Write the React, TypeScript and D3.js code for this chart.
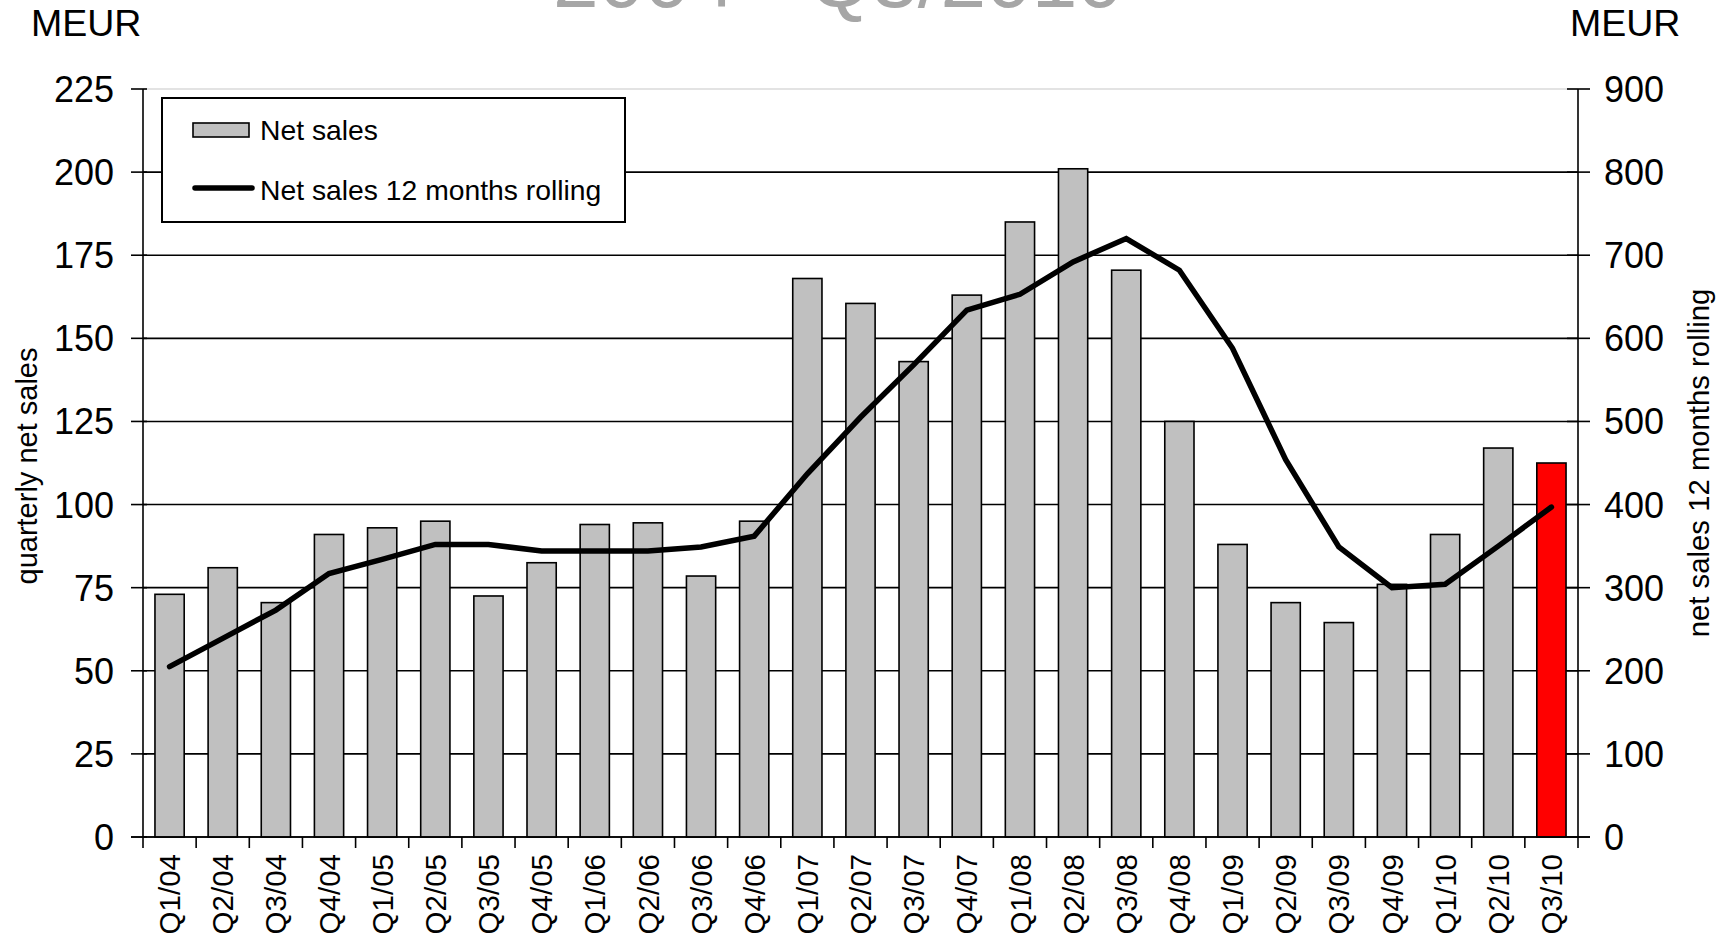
import React, { useEffect } from "react";
import * as d3 from "d3";

const categories = [
  "Q1/04", "Q2/04", "Q3/04", "Q4/04",
  "Q1/05", "Q2/05", "Q3/05", "Q4/05",
  "Q1/06", "Q2/06", "Q3/06", "Q4/06",
  "Q1/07", "Q2/07", "Q3/07", "Q4/07",
  "Q1/08", "Q2/08", "Q3/08", "Q4/08",
  "Q1/09", "Q2/09", "Q3/09", "Q4/09",
  "Q1/10", "Q2/10", "Q3/10",
];

const netSales = [
  73, 81, 70.5, 91,
  93, 95, 72.5, 82.5,
  94, 94.5, 78.5, 95,
  168, 160.5, 143, 163,
  185, 201, 170.5, 125,
  88, 70.5, 64.5, 76,
  91, 117, 112.5,
];

const rolling12m = [
  205, 239, 273, 317,
  334, 352, 352, 344,
  344, 344, 349, 362,
  437, 505, 568, 634,
  653, 692, 720, 682,
  588, 454, 349, 300,
  304, 350, 397,
];

const leftTicks = [0, 25, 50, 75, 100, 125, 150, 175, 200, 225];
const rightTicks = [0, 100, 200, 300, 400, 500, 600, 700, 800, 900];

const highlightCategory = "Q3/10";
const titleText = "2004 - Q3/2010";
const unitLabel = "MEUR";
const leftTitle = "quarterly net sales";
const rightTitle = "net sales 12 months rolling";
const legendBarLabel = "Net sales";
const legendLineLabel = "Net sales 12 months rolling";

const W = 1727;
const H = 937;
const M = { left: 143, right: 1578, top: 89, bottom: 837 };
const FONT = "'Liberation Sans', Arial, Helvetica, sans-serif";

export default function App() {
  useEffect(() => {
    document.body.style.margin = "0";
    document.body.style.overflow = "hidden";
  }, []);

  const x = d3
    .scaleBand<string>()
    .domain(categories)
    .range([M.left, M.right])
    .paddingInner(0.45)
    .paddingOuter(0.225);
  const yL = d3.scaleLinear().domain([0, 225]).range([M.bottom, M.top]);
  const yR = d3.scaleLinear().domain([0, 900]).range([M.bottom, M.top]);

  const step = x.step();
  const cx = (c: string) => (x(c) as number) + x.bandwidth() / 2;

  const lineGen = d3
    .line<number>()
    .x((_, i) => cx(categories[i]))
    .y((d) => yR(d));

  const boundaries = d3.range(categories.length + 1).map((k) => M.left + k * step);

  return (
    <div style={{ position: "absolute", left: 0, top: 0, width: W, height: H, background: "#fff" }}>
      <svg width={W} height={H} style={{ display: "block", fontFamily: FONT }}>
        <rect x={0} y={0} width={W} height={H} fill="#fff" />
        {/* cropped title (cut at the top edge as in the reference) */}
        <text x={838} y={7} textAnchor="middle" fontSize={82} fill="#a6a6a6">
          {titleText}
        </text>

        {/* units */}
        <text x={31} y={36} fontSize={37.5} fill="#000">{unitLabel}</text>
        <text x={1570} y={36} fontSize={37.5} fill="#000">{unitLabel}</text>

        {/* gridlines */}
        {leftTicks.map((t) => (
          <line
            key={"g" + t}
            x1={M.left}
            x2={M.right}
            y1={yL(t)}
            y2={yL(t)}
            stroke={t === 225 ? "#c8c8c8" : "#000"}
            strokeWidth={t === 225 ? 1.2 : 1.6}
          />
        ))}

        {/* bars */}
        {categories.map((c, i) => (
          <rect
            key={c}
            x={x(c)}
            y={yL(netSales[i])}
            width={x.bandwidth()}
            height={yL(0) - yL(netSales[i])}
            fill={c === highlightCategory ? "#ff0000" : "#c0c0c0"}
            stroke="#000"
            strokeWidth={1.6}
          />
        ))}

        {/* rolling line */}
        <path
          d={lineGen(rolling12m) || ""}
          fill="none"
          stroke="#000"
          strokeWidth={5.5}
          strokeLinejoin="miter"
          strokeLinecap="round"
        />

        {/* left axis */}
        <line x1={M.left} x2={M.left} y1={M.top} y2={M.bottom} stroke="#000" strokeWidth={1.6} />
        {leftTicks.map((t) => (
          <g key={"lt" + t}>
            <line x1={M.left - 12} x2={M.left + 4} y1={yL(t)} y2={yL(t)} stroke="#000" strokeWidth={1.6} />
            <text x={114} y={yL(t)} dy="0.36em" textAnchor="end" fontSize={36} fill="#000">
              {t}
            </text>
          </g>
        ))}

        {/* right axis */}
        <line x1={M.right} x2={M.right} y1={M.top} y2={M.bottom} stroke="#000" strokeWidth={1.6} />
        {rightTicks.map((t) => (
          <g key={"rt" + t}>
            <line x1={M.right - 11} x2={M.right + 12} y1={yR(t)} y2={yR(t)} stroke="#000" strokeWidth={1.6} />
            <text x={1604} y={yR(t)} dy="0.36em" textAnchor="start" fontSize={36} fill="#000">
              {t}
            </text>
          </g>
        ))}

        {/* x axis */}
        <line x1={M.left - 12} x2={M.right + 12} y1={M.bottom} y2={M.bottom} stroke="#000" strokeWidth={1.6} />
        {boundaries.map((bx, k) => (
          <line key={"xt" + k} x1={bx} x2={bx} y1={M.bottom} y2={M.bottom + 11} stroke="#000" strokeWidth={1.6} />
        ))}
        {categories.map((c) => (
          <text
            key={"xl" + c}
            transform={`translate(${cx(c)},${M.bottom + 17}) rotate(-90)`}
            dy="0.36em"
            textAnchor="end"
            fontSize={29.5}
            fill="#000"
          >
            {c}
          </text>
        ))}

        {/* axis titles */}
        <text transform="translate(27,466) rotate(-90)" dy="0.36em" textAnchor="middle" fontSize={29} fill="#000">
          {leftTitle}
        </text>
        <text transform="translate(1698,463) rotate(-90)" dy="0.36em" textAnchor="middle" fontSize={29.3} fill="#000">
          {rightTitle}
        </text>

        {/* legend */}
        <rect x={162} y={98} width={463} height={124} fill="#fff" stroke="#000" strokeWidth={2} />
        <rect x={193} y={123} width={56} height={14} fill="#c0c0c0" stroke="#000" strokeWidth={1.6} />
        <text x={260} y={139.5} fontSize={28.3} fill="#000">{legendBarLabel}</text>
        <line x1={195} x2={252} y1={188} y2={188} stroke="#000" strokeWidth={5.5} strokeLinecap="round" />
        <text x={260} y={199.5} fontSize={28.3} fill="#000">{legendLineLabel}</text>
      </svg>
    </div>
  );
}
